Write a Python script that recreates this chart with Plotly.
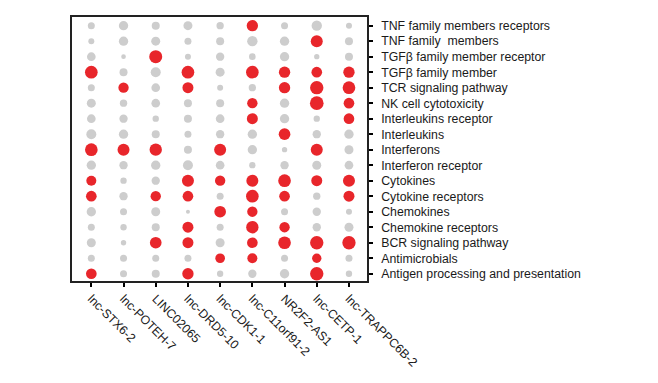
import plotly.graph_objects as go

genes = ["lnc-STX6-2", "lnc-POTEH-7", "LINC02065", "lnc-DRD5-10", "lnc-CDK1-1",
         "lnc-C11orf91-2", "NR2F2-AS1", "lnc-CETP-1", "lnc-TRAPPC6B-2"]

pathways = ["TNF family members receptors", "TNF family\u00a0 members",
            "TGF\u03b2 family member receptor", "TGF\u03b2 family member",
            "TCR signaling pathway", "NK cell cytotoxicity", "Interleukins receptor",
            "Interleukins", "Interferons", "Interferon receptor", "Cytokines",
            "Cytokine receptors", "Chemokines", "Chemokine receptors",
            "BCR signaling pathway", "Antimicrobials", "Antigen processing and presentation"]

# score per (pathway row, gene column)
score = [
    [21, 28, 24, 27, 22, 34, 21, 31, 18],
    [18, 28, 27, 21, 24, 31, 28, 36, 24],
    [26, 14, 39, 18, 25, 20, 28, 16, 24],
    [38, 24, 30, 38, 27, 38, 34, 32, 34],
    [21, 31, 26, 33, 18, 22, 34, 40, 38],
    [27, 22, 26, 24, 24, 31, 28, 41, 32],
    [26, 25, 19, 24, 26, 33, 28, 19, 32],
    [30, 28, 24, 21, 25, 28, 35, 25, 28],
    [38, 36, 37, 24, 36, 28, 16, 36, 27],
    [28, 25, 28, 30, 26, 19, 25, 27, 26],
    [30, 19, 25, 36, 31, 36, 38, 33, 36],
    [32, 25, 31, 32, 21, 38, 32, 22, 33],
    [28, 21, 27, 12, 35, 31, 21, 25, 18],
    [21, 19, 24, 33, 21, 37, 31, 25, 27],
    [27, 16, 35, 33, 27, 32, 38, 40, 40],
    [21, 21, 21, 21, 29, 30, 21, 28, 21],
    [32, 21, 24, 34, 19, 25, 28, 40, 19],
]

# 1 = significant (red), 0 = not significant (grey)
significant = [
    [0, 0, 0, 0, 0, 1, 0, 0, 0],
    [0, 0, 0, 0, 0, 0, 0, 1, 0],
    [0, 0, 1, 0, 0, 0, 0, 0, 0],
    [1, 0, 0, 1, 0, 1, 1, 1, 1],
    [0, 1, 0, 1, 0, 0, 1, 1, 1],
    [0, 0, 0, 0, 0, 1, 0, 1, 1],
    [0, 0, 0, 0, 0, 1, 0, 0, 1],
    [0, 0, 0, 0, 0, 0, 1, 0, 0],
    [1, 1, 1, 0, 1, 0, 0, 1, 0],
    [0, 0, 0, 0, 0, 0, 0, 0, 0],
    [1, 0, 0, 1, 1, 1, 1, 1, 1],
    [1, 0, 1, 1, 0, 1, 1, 0, 1],
    [0, 0, 0, 0, 1, 1, 0, 0, 0],
    [0, 0, 0, 1, 0, 1, 1, 0, 0],
    [0, 0, 1, 1, 0, 1, 1, 1, 1],
    [0, 0, 0, 0, 1, 1, 0, 1, 0],
    [1, 0, 0, 1, 0, 0, 0, 1, 0],
]

RED = "#E8262B"
GREY = "#CDCDCD"

xs, ys, ss, cs = [], [], [], []
for i, row in enumerate(score):
    for j, v in enumerate(row):
        xs.append(j)
        ys.append(i)
        ss.append(v)
        cs.append(RED if significant[i][j] else GREY)

fig = go.Figure(go.Scatter(
    x=xs, y=ys, mode="markers",
    marker=dict(size=ss, sizemode="diameter", sizeref=3, color=cs, opacity=1,
                line=dict(width=0)),
    hoverinfo="skip", showlegend=False,
))

font = dict(family="Liberation Sans, Arial, sans-serif", size=12.3, color="#1a1a1a")

fig.update_layout(
    width=650, height=375,
    margin=dict(l=64, r=291, t=9, b=102),
    paper_bgcolor="white", plot_bgcolor="white",
    font=font,
    xaxis=dict(
        range=[-0.6, 8.56], tickmode="array", tickvals=list(range(len(genes))),
        ticktext=genes, tickangle=45, ticks="outside", ticklen=4, tickwidth=2,
        tickcolor="black", showgrid=False, zeroline=False, automargin=False,
        showline=True, linecolor="#222", linewidth=1.5, mirror=True,
        tickfont=font,
    ),
    yaxis=dict(
        range=[16.47, -0.56], tickmode="array", tickvals=list(range(len(pathways))),
        ticktext=pathways, side="right", ticks="outside", ticklen=4, tickwidth=2,
        tickcolor="black", showgrid=False, zeroline=False, automargin=False,
        showline=True, linecolor="#222", linewidth=1.5, mirror=True,
        tickfont=font, ticklabelstandoff=6,
    ),
)

fig.write_html("out.html")
